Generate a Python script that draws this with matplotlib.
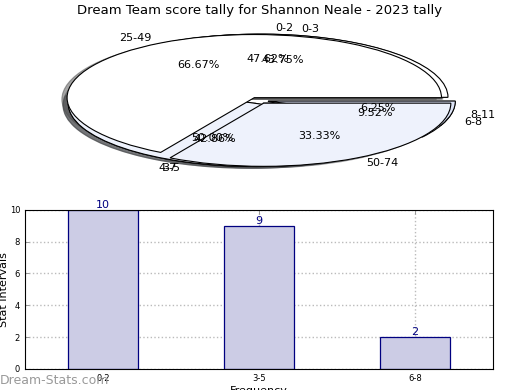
import matplotlib
matplotlib.use("Agg")
from matplotlib import pyplot as plt

# score tally pie
score_labels = ["25-49", "50-74"]
score_counts = [2, 1]

# stat interval pies (two series sharing one axes)
freq_labels = ["0-2", "3-5", "6-8"]
freq_counts = [10, 9, 2]
alt_labels = ["0-3", "4-7", "8-11"]
alt_counts = [7, 8, 1]

bar_color = "#ccccE5"
navy = "#000080"
wedge_colors = ["white", "#eef2fc", "#dde4f7"]

fig = plt.figure(figsize=(5.2, 3.9), dpi=100)
fig.text(0.5, 0.972, "Dream Team score tally for Shannon Neale - 2023 tally",
         ha="center", va="center", fontsize=9.5)

pie_ax = fig.add_axes([0.048, 0.54, 0.9, 0.405])
for labels, counts in [(freq_labels, freq_counts),
                       (alt_labels, alt_counts),
                       (score_labels, score_counts)]:
    _, texts, autotexts = pie_ax.pie(counts, labels=labels, autopct="%.2f%%",
                                     startangle=0, shadow=True,
                                     explode=[0.05] * len(counts),
                                     colors=wedge_colors[:len(counts)],
                                     wedgeprops=dict(edgecolor="black",
                                                     linewidth=0.8))
    for t in texts + autotexts:
        t.set_fontsize(8)
pie_ax.set_aspect("auto")
pie_ax.set_xlim(-1.25, 1.25)
pie_ax.set_ylim(-1.25, 1.25)

bar_ax = fig.add_axes([0.048, 0.054, 0.9, 0.408])
xs = range(len(freq_labels))
bars = bar_ax.bar(xs, freq_counts, width=0.45, color=bar_color,
                  edgecolor=navy, linewidth=0.9, zorder=2)
for x, v in zip(xs, freq_counts):
    bar_ax.text(x, v, str(v), ha="center", va="bottom", color=navy,
                fontsize=8, zorder=4)
bar_ax.set_xlim(-0.5, 2.5)
bar_ax.set_ylim(0, 10)
bar_ax.set_xticks(list(xs))
bar_ax.set_xticklabels(freq_labels)
bar_ax.set_yticks(range(0, 11, 2))
bar_ax.tick_params(labelsize=6, direction="in", top=True, right=True,
                   length=3, width=0.6, color="#888888")
bar_ax.grid(True, linestyle=":", color="#bbbbbb", linewidth=1.0, zorder=0)
bar_ax.set_axisbelow(True)
bar_ax.set_ylabel("Stat Intervals", fontsize=8)
bar_ax.yaxis.set_label_coords(-0.035, 0.5)
bar_ax.set_xlabel("Frequency", fontsize=8, labelpad=2)

fig.text(0.0, 0.025, "Dream-Stats.com", color="#999999", fontsize=9,
         ha="left", va="center")

fig.savefig("out.png", dpi=100)
